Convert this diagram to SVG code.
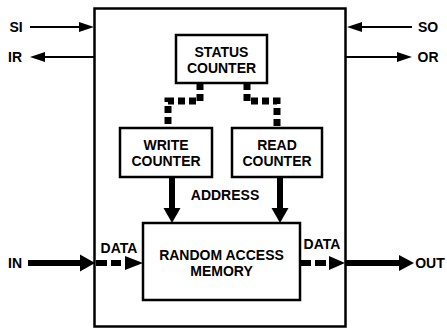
<svg xmlns="http://www.w3.org/2000/svg" width="447" height="329" viewBox="0 0 447 329">
<defs>
<style>
text{font-family:"Liberation Sans",Arial,sans-serif;font-weight:bold;font-size:14px;fill:#000;text-anchor:middle;dominant-baseline:central}
.box{fill:#fff;stroke:#000;stroke-width:2.5}
.thin{stroke:#000;stroke-width:2;fill:none}
.thick{stroke:#000;stroke-width:6;fill:none}
.dash{stroke:#000;stroke-width:7;fill:none;stroke-dasharray:7 4}
.dd{stroke:#000;stroke-width:6;fill:none}
.head{fill:#000}
</style>
</defs>
<rect width="447" height="329" fill="#fff"/>
<g id="outer"><rect class="box" x="94.5" y="8.5" width="251" height="318"/></g>
<g id="connectors">
<line class="thin" x1="30" y1="27" x2="82" y2="27"/><polygon class="head" points="79,22 94,27 79,32"/>
<line class="thin" x1="94" y1="57" x2="42" y2="57"/><polygon class="head" points="30,57 45,52 45,62"/>
<line class="thin" x1="412" y1="27" x2="358" y2="27"/><polygon class="head" points="347,27 362,22 362,32"/>
<line class="thin" x1="346" y1="57" x2="400" y2="57"/><polygon class="head" points="397,52 412,57 397,62"/>
<path class="dash" d="M200,83 V101 H168 V128"/>
<path class="dash" d="M247,83 V101 H277 V128"/>
<line class="thick" x1="172" y1="177" x2="172" y2="210"/><polygon class="head" points="163.5,208 180.5,208 172,223"/>
<line class="thick" x1="280" y1="177" x2="280" y2="210"/><polygon class="head" points="271.5,208 288.5,208 280,223"/>
<line class="thick" x1="28" y1="263" x2="82" y2="263"/><polygon class="head" points="80,254.5 95,263 80,271.5"/>
<line class="dd" x1="96" y1="263" x2="107" y2="263"/><line class="dd" x1="111" y1="263" x2="121" y2="263"/><polygon class="head" points="125,256 143,263 125,270"/>
<line class="dd" x1="301" y1="263" x2="311" y2="263"/><line class="dd" x1="315" y1="263" x2="326" y2="263"/><polygon class="head" points="329,256 345,263 329,270"/>
<line class="thick" x1="346" y1="263" x2="402" y2="263"/><polygon class="head" points="399,255 414,263 399,271"/>
</g>
<g id="status"><rect class="box" x="176" y="35" width="91" height="48"/><text x="221.5" y="52">STATUS</text><text x="221.5" y="68">COUNTER</text></g>
<g id="write"><rect class="box" x="120" y="128" width="92" height="49"/><text x="166" y="145">WRITE</text><text x="166" y="161">COUNTER</text></g>
<g id="read"><rect class="box" x="232" y="128" width="90" height="49"/><text x="277" y="145">READ</text><text x="277" y="161">COUNTER</text></g>
<g id="ram"><rect class="box" x="143" y="223" width="157" height="77"/><text x="221.5" y="255">RANDOM ACCESS</text><text x="221.5" y="271">MEMORY</text></g>
<g id="labels">
<text x="16" y="27">SI</text>
<text x="15" y="57">IR</text>
<text x="428" y="27">SO</text>
<text x="428" y="57">OR</text>
<text x="15" y="263">IN</text>
<text x="430" y="263">OUT</text>
<text x="119" y="248">DATA</text>
<text x="322" y="244">DATA</text>
<text x="225" y="195">ADDRESS</text>
</g>
</svg>
